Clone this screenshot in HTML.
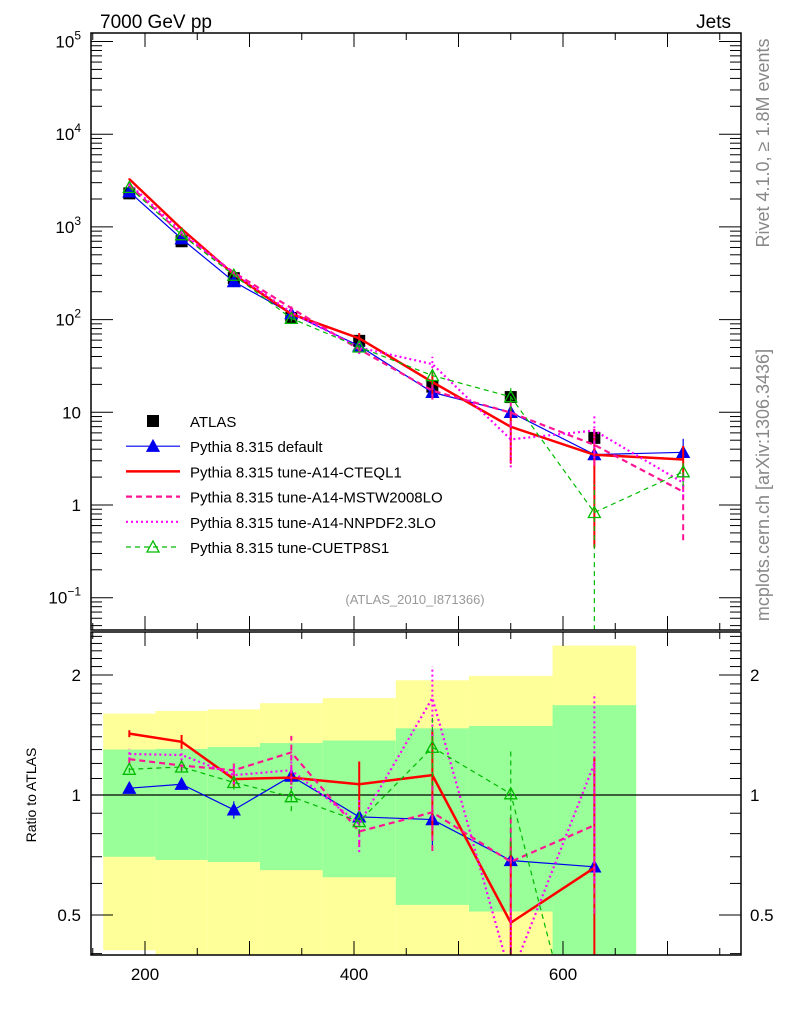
<!DOCTYPE html>
<html><head><meta charset="utf-8"><style>
html,body{margin:0;padding:0;background:#fff;overflow:hidden;width:786px;height:1024px;}
svg{display:block;}
svg text{font-family:"Liberation Sans",sans-serif;}
</style></head><body>
<svg id="chart" width="786" height="1024" xmlns="http://www.w3.org/2000/svg">
<defs>
<clipPath id="cm"><rect x="91" y="33" width="650" height="597"/></clipPath>
<clipPath id="cr"><rect x="91" y="632" width="650" height="323"/></clipPath>
</defs>
<g id="bands" clip-path="url(#cr)"></g>
<g id="ratio" clip-path="url(#cr)"></g>
<g id="main" clip-path="url(#cm)"></g>
<g id="axes"></g>
<text x="100" y="28" font-size="19">7000 GeV pp</text>
<text x="731" y="28" font-size="19" text-anchor="end">Jets</text>
<text x="415" y="604" font-size="13" fill="#999" text-anchor="middle">(ATLAS_2010_I871366)</text>
<text transform="translate(769,143) rotate(-90)" font-size="18" fill="#888" text-anchor="middle">Rivet 4.1.0, ≥ 1.8M events</text>
<text transform="translate(769,485) rotate(-90)" font-size="18" fill="#888" text-anchor="middle">mcplots.cern.ch [arXiv:1306.3436]</text>
<text transform="translate(36,795) rotate(-90)" font-size="14" text-anchor="middle">Ratio to ATLAS</text>
<g id="legend"></g>
</svg>
<script>
const xs=[185,235,285,340,405,475,550,630,715];
const atlas=[2300,700,280,104,59,18.9,14.6,5.3];
const atlasErr=[0.03,0.03,0.05,0.05,0.1,0.15,0.15,0.2];
const binEdges=[160,210,260,310,370,440,510,590,670];
const yellowHi=[1.6,1.625,1.64,1.7,1.75,1.94,1.99,2.37];
const greenHi=[1.3,1.305,1.32,1.35,1.37,1.47,1.49,1.68];
const greenLo=[0.7,0.687,0.679,0.648,0.622,0.53,0.51,0.3];
const yellowLo=[0.408,0.35,0.35,0.35,0.35,0.35,0.35,0.35];
const blueVals=[2392,745,257,116,52,16.4,10.0,3.5,3.7];
const redVals=[3278,952,307,115,62.8,21.2,6.98,3.48,3.1];
const mstwVals=[2829,830,323,133,47.8,17.1,9.93,4.45,1.39];
const nnpdfVals=[2914,882,314,120,49.9,33.1,5.1,6.36,1.74];
const greenVals=[2668,823,301,103,50.6,24.9,14.7,0.83,2.28];
const blueErr=[0.01,0.03,0.05,0.04,0.05,0.15,0.2,0.3,0.4];
const redErr=[0.02,0.04,0.05,0.04,0.14,0.3,0.6,0.9,0.4];
const mstwErr=[0.03,0.03,0.04,0.1,0.08,0.2,0.3,0.4,0.7];
const nnpdfErr=[0.03,0.03,0.05,0.1,0.15,0.2,0.5,0.5,0.3];
const greenErr=[0.02,0.03,0.04,0.08,0.07,0.2,0.3,1,0.3];
const xTicks=[200,400,600];
const mainTickExp=[-1,0,1,2,3,4,5];
const ratioTicks=[0.5,1,2];

const NS="http://www.w3.org/2000/svg";
const X=v=>-64+1.045*v;
const YM=v=>505-92.7*Math.log10(v);
const YR=v=>795-398.6*Math.log10(v);
function el(tag,attrs,parent){const e=document.createElementNS(NS,tag);for(const k in attrs)e.setAttribute(k,attrs[k]);parent.appendChild(e);return e;}
const gB=document.getElementById('bands'),gR=document.getElementById('ratio'),gM=document.getElementById('main'),gA=document.getElementById('axes'),gL=document.getElementById('legend');

for(let i=0;i<yellowHi.length;i++){
  const x1=X(binEdges[i]),x2=X(binEdges[i+1]);
  let r=el('rect',{x:x1,y:YR(yellowHi[i]),width:x2-x1,height:YR(yellowLo[i])-YR(yellowHi[i]),fill:'#ffff99'},gB);
  
  
  r=el('rect',{x:x1,y:YR(greenHi[i]),width:x2-x1,height:YR(greenLo[i])-YR(greenHi[i]),fill:'#99ff99'},gB);
  
  
}
let ln=el('line',{x1:91,x2:741,y1:YR(1),y2:YR(1),stroke:'#000','stroke-width':1.2},gR);



const series=[
 {name:'default',vals:blueVals,err:blueErr,color:'#0000ee',w:1.2,dash:'',marker:'tri'},
 {name:'cteql1',vals:redVals,err:redErr,color:'#ff0000',w:2.5,dash:'',marker:'none'},
 {name:'mstw2008lo',vals:mstwVals,err:mstwErr,color:'#ff1493',w:2.2,dash:'6,4',marker:'none'},
 {name:'nnpdf23lo',vals:nnpdfVals,err:nnpdfErr,color:'#ff00ff',w:2.2,dash:'2,3',marker:'none'},
 {name:'cuetp8s1',vals:greenVals,err:greenErr,color:'#00bb00',w:1.2,dash:'5,4',marker:'otri'}
];
function tri(g,x,y,c,open){const p=el('polygon',{points:`${x-6},${y+5} ${x+6},${y+5} ${x},${y-6}`,fill:open?'none':c,stroke:c,'stroke-width':1.3},g);return p;}
function drawSeries(g,s,ys,ratio){
  const n=ratio?8:9;
  const pts=[];
  for(let i=0;i<n;i++){const v=ratio?s.vals[i]/atlas[i]:s.vals[i];pts.push([X(xs[i]),ys(v),v]);}
  let pl=el('polyline',{points:pts.map(p=>p[0]+','+p[1]).join(' '),fill:'none',stroke:s.color,'stroke-width':s.w,'stroke-dasharray':s.dash},g);
  
  
  for(let i=0;i<n;i++){
    const v=pts[i][2],e=s.err[i];
    const lo=Math.max(v*(1-e),1e-3),hi=v*(1+e);
    let b=el('line',{x1:pts[i][0],x2:pts[i][0],y1:ys(lo),y2:ys(hi),stroke:s.color,'stroke-width':s.w>2?2:1.2,'stroke-dasharray':s.dash},g);
    
    
    if(s.marker!=='none'){const m=tri(g,pts[i][0],pts[i][1],s.color,s.marker==='otri');
      
      }
  }
}
series.forEach(s=>drawSeries(gR,s,YR,true));
for(let i=0;i<atlas.length;i++){
  const x=X(xs[i]),y=YM(atlas[i]);
  let b=el('line',{x1:x,x2:x,y1:YM(atlas[i]*(1-atlasErr[i])),y2:YM(atlas[i]*(1+atlasErr[i])),stroke:'#000','stroke-width':1.2},gM);
  
  
  let r=el('rect',{x:x-6,y:y-6,width:12,height:12,fill:'#000'},gM);
  
  
}
series.forEach(s=>drawSeries(gM,s,YM,false));

[[33,630],[632,955]].forEach((f,k)=>{
  let r=el('rect',{x:91,y:f[0],width:650,height:f[1]-f[0],fill:'none',stroke:'#000','stroke-width':1.5},gA);
  
  
  for(let v=150;v<=760;v+=50){const x=X(v);if(x<91||x>741)continue;const L=v%100===0?14:7;
    el('line',{x1:x,x2:x,y1:f[1],y2:f[1]-L,stroke:'#000'},gA);el('line',{x1:x,x2:x,y1:f[0],y2:f[0]+L,stroke:'#000'},gA);}
});
mainTickExp.forEach(e=>{
  const y=YM(Math.pow(10,e));
  el('line',{x1:91,x2:113,y1:y,y2:y,stroke:'#000'},gA);el('line',{x1:741,x2:719,y1:y,y2:y,stroke:'#000'},gA);
  for(let m=2;m<=9;m++){const ym=YM(m*Math.pow(10,e-1));if(ym>630||ym<33)continue;
    el('line',{x1:91,x2:102,y1:ym,y2:ym,stroke:'#000'},gA);el('line',{x1:741,x2:730,y1:ym,y2:ym,stroke:'#000'},gA);}
  let t=el('text',{x:81,y:y+6,'font-size':17,'text-anchor':'end'},gA);
  
  
  if(e===0)t.textContent='1';else if(e===1)t.textContent='10';
  else{t.textContent='10';const s=el('tspan',{dy:-8,'font-size':12},t);s.textContent=String(e).replace('-','−');}
});
{for(let m=2;m<=9;m++){const ym=YM(m*1e5);if(ym>=33){el('line',{x1:91,x2:102,y1:ym,y2:ym,stroke:'#000'},gA);el('line',{x1:741,x2:730,y1:ym,y2:ym,stroke:'#000'},gA);}}}
[0.4,0.5,0.6,0.7,0.8,0.9,1,1.1,1.2,1.3,1.4,1.5,1.6,1.7,1.8,1.9,2,2.1,2.2,2.3,2.4,2.5].forEach(v=>{
  const y=YR(v);if(y<632||y>955)return;const L=ratioTicks.includes(v)?22:11;
  el('line',{x1:91,x2:91+L,y1:y,y2:y,stroke:'#000'},gA);el('line',{x1:741,x2:741-L,y1:y,y2:y,stroke:'#000'},gA);
});
ratioTicks.forEach(v=>{
  let t=el('text',{x:81,y:YR(v)+6,'font-size':17,'text-anchor':'end'},gA);t.textContent=String(v);
  
  
  t=el('text',{x:750,y:YR(v)+6,'font-size':17},gA);t.textContent=String(v);
  
  
});
xTicks.forEach(v=>{
  let t=el('text',{x:X(v),y:980,'font-size':17,'text-anchor':'middle'},gA);t.textContent=String(v);
  
  
});
const legendLabels=['ATLAS','Pythia 8.315 default','Pythia 8.315 tune-A14-CTEQL1','Pythia 8.315 tune-A14-MSTW2008LO','Pythia 8.315 tune-A14-NNPDF2.3LO','Pythia 8.315 tune-CUETP8S1'];
legendLabels.forEach((lab,i)=>{
  const y=421+i*25.2;
  const g=el('g',{},gL);
  
  
  if(i===0){el('rect',{x:147,y:y-6,width:12,height:12,fill:'#000'},g);}
  else{const s=series[i-1];el('line',{x1:126,x2:180,y1:y,y2:y,stroke:s.color,'stroke-width':s.w,'stroke-dasharray':s.dash},g);
    if(s.marker!=='none')tri(g,153,y,s.color,s.marker==='otri');}
  const t=el('text',{x:190,y:y+6,'font-size':15},g);t.textContent=lab;
});
</script>
</body></html>
